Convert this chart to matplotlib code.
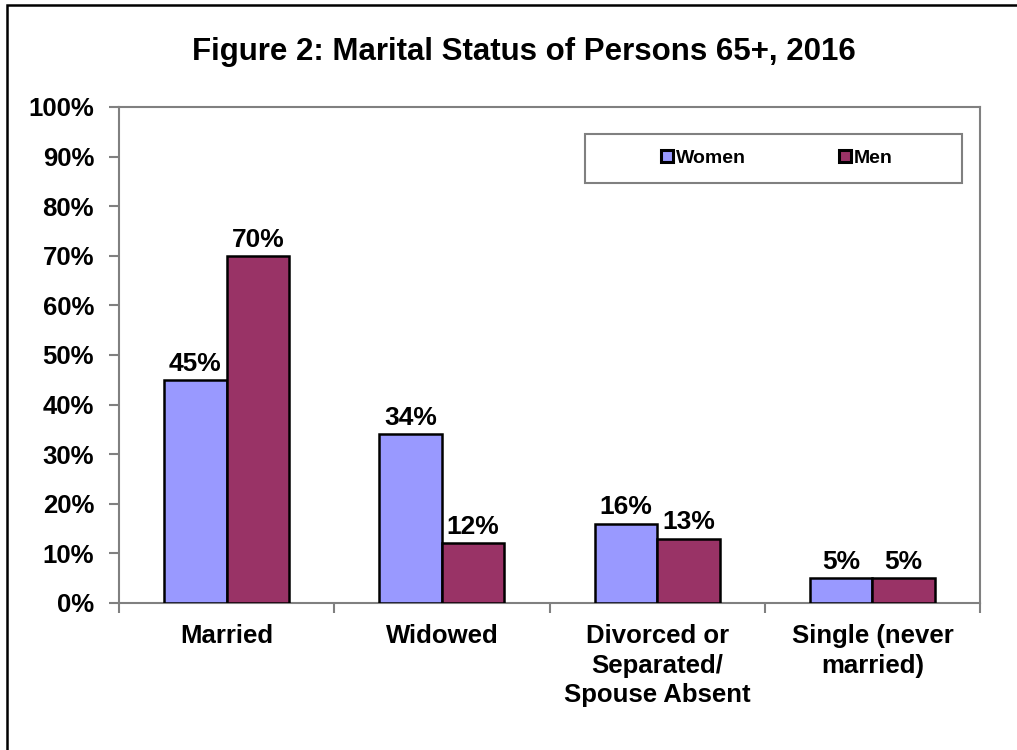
import matplotlib
matplotlib.use("Agg")
import matplotlib.pyplot as plt
from matplotlib.patches import Rectangle
from matplotlib.ticker import MultipleLocator, FixedLocator, FuncFormatter
import numpy as np

plt.rcParams['font.family'] = ['Liberation Sans', 'DejaVu Sans']
plt.rcParams['font.weight'] = 'bold'

categories = ["Married", "Widowed", "Divorced or\nSeparated/\nSpouse Absent", "Single (never\nmarried)"]
women = [45, 34, 16, 5]
men = [70, 12, 13, 5]
series_names = ["Women", "Men"]
title = "Figure 2: Marital Status of Persons 65+, 2016"

W, H = 1017, 750
fig = plt.figure(figsize=(W / 100, H / 100), dpi=100)
ax = fig.add_axes([119 / W, 1 - 603 / H, (980 - 119) / W, (603 - 107) / H])

x = np.arange(len(categories))
bw = 0.29
b1 = ax.bar(x - bw / 2, women, bw, color="#9999FF", edgecolor="black", linewidth=1.8, label=series_names[0], zorder=3)
b2 = ax.bar(x + bw / 2, men, bw, color="#993366", edgecolor="black", linewidth=1.8, label=series_names[1], zorder=3)

for bars, vals in ((b1, women), (b2, men)):
    for r, v in zip(bars, vals):
        ax.annotate(f"{v}%", (r.get_x() + r.get_width() / 2, v), xytext=(0, 3),
                    textcoords="offset points", ha="center", va="bottom",
                    fontsize=19, fontweight="bold")

ax.set_xlim(-0.5, len(categories) - 0.5)
ax.set_ylim(0, 100)
ax.yaxis.set_major_locator(MultipleLocator(10))
ax.yaxis.set_major_formatter(FuncFormatter(lambda v, p: f"{int(v)}%"))
ax.tick_params(axis="y", direction="out", length=7, width=1.5, color="#808080",
               pad=11, labelsize=18.5)
for lab in ax.get_yticklabels():
    lab.set_fontweight("bold")

ax.set_xticks(x)
ax.set_xticklabels(categories, fontsize=18.5, fontweight="bold", linespacing=1.3)
ax.tick_params(axis="x", which="major", length=0, pad=15)
ax.xaxis.set_minor_locator(FixedLocator(np.arange(-0.5, len(categories), 1.0)))
ax.tick_params(axis="x", which="minor", direction="out", length=7, width=1.5, color="#808080")

for s in ax.spines.values():
    s.set_color("#808080")
    s.set_linewidth(1.5)

# legend with box
ax.add_patch(Rectangle(((585 - 119) / 861, 1 - (183 - 107) / 496), (962 - 585) / 861, (183 - 134) / 496,
                       transform=ax.transAxes, facecolor="white", edgecolor="#808080",
                       linewidth=1.5, zorder=4))
leg = ax.legend(loc="center", bbox_to_anchor=((777 - 119) / 861, 1 - (158.5 - 107) / 496),
                ncol=2, frameon=False, handlelength=0.6, handleheight=0.6,
                handletextpad=0.15, columnspacing=4.8, prop={"weight": "bold", "size": 14})
leg.set_zorder(5)
for h in leg.legend_handles:
    h.set_linewidth(2.2)

fig.text(524 / W, 1 - 52 / H, title, ha="center", va="center", fontsize=22.5, fontweight="bold")

fig.add_artist(Rectangle((7 / W, -0.1), 1.2, 1.1 - 5 / H, transform=fig.transFigure,
                         fill=False, edgecolor="black", linewidth=1.8))

fig.savefig("out.png", dpi=100)
